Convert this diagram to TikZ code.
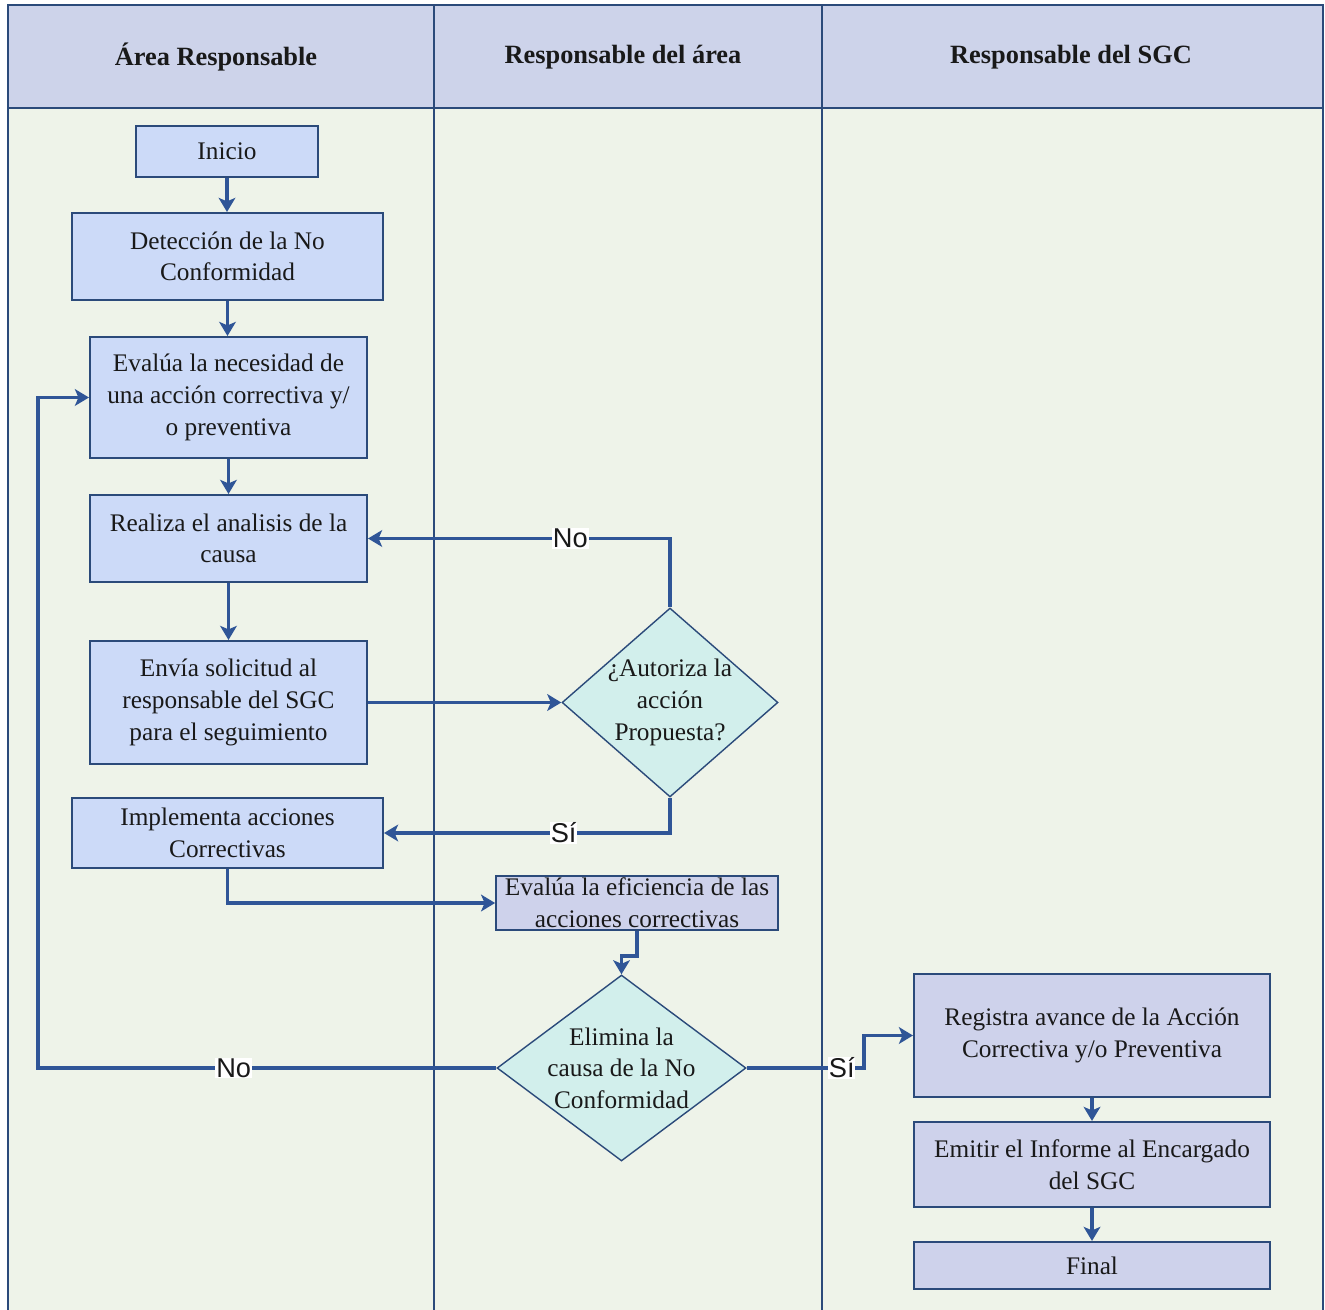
\documentclass[tikz,border=0pt]{standalone}
\usepackage{fontspec}
\setmainfont{Liberation Serif}
\newfontfamily\lblfont{Liberation Sans}
\usetikzlibrary{shapes.geometric,arrows.meta}

\definecolor{headfill}{HTML}{CDD3EA}
\definecolor{lanefill}{HTML}{EEF3E9}
\definecolor{boxblue}{HTML}{CCDAF8}
\definecolor{boxlila}{HTML}{CED2EB}
\definecolor{dmdfill}{HTML}{D2EFEC}
\definecolor{rule}{HTML}{2B4A7A}
\definecolor{flowc}{HTML}{2F5597}

\begin{document}
\begin{tikzpicture}[x=0.02cm, y=-0.02cm,
  every node/.style={font=\fontsize{14.4}{18}\selectfont, text=black!90},
  caja/.style={draw=rule, line width=1.2pt, fill=boxblue, rectangle,
    inner sep=0pt, align=center},
  cajalila/.style={caja, fill=boxlila},
  decision/.style={draw=rule, line width=0.8pt, fill=dmdfill, diamond,
    inner sep=-14pt, align=center},
  flow/.style={draw=flowc, line width=1.9pt,
    -{Stealth[length=8pt,width=9.5pt,inset=2pt]}},
  lbl/.style={fill=white, inner sep=0.5pt, font=\lblfont\fontsize{15.5}{18}\selectfont}]

  \useasboundingbox (0,0) rectangle (1325,1310);

  % ---- carriles (fondo y cabecera) ----
  \fill[lanefill] (8,108) rectangle (1323,1310);
  \fill[headfill] (8,5) rectangle (1323,108);
  \draw[rule, line width=1.2pt] (8,1310) -- (8,5) -- (1323,5) -- (1323,1310);
  \draw[rule, line width=1.2pt] (8,108) -- (1323,108);
  \foreach \x in {434, 822}{%
    \draw[rule, line width=1.2pt] (\x,5) -- (\x,1310);
  }
  \foreach \x/\t in {216/Área Responsable, 623/Responsable del área,
                     1071/Responsable del SGC}{%
    \node[font=\fontsize{15}{16}\selectfont\bfseries] at (\x,57) {\t};
  }

  % ---- Área Responsable ----
  \node[caja, minimum width=3.64cm, minimum height=1.02cm] (inicio) at (227,151.5) {Inicio};
  \node[caja, minimum width=6.22cm, minimum height=1.74cm] (detec) at (227.5,256.5)
    {Detección de la No\\Conformidad};
  \node[caja, minimum width=5.54cm, minimum height=2.42cm] (evalua) at (228.5,397.5)
    {Evalúa la necesidad de\\una acción correctiva y/\\o preventiva};
  \node[caja, minimum width=5.54cm, minimum height=1.74cm] (realiza) at (228.5,538.5)
    {Realiza el analisis de la\\causa};
  \node[caja, minimum width=5.54cm, minimum height=2.46cm] (envia) at (228.5,702.5)
    {Envía solicitud al\\responsable del SGC\\para el seguimiento};
  \node[caja, minimum width=6.22cm, minimum height=1.40cm] (impl) at (227.5,833)
    {Implementa acciones\\Correctivas};

  % ---- Responsable del área ----
  \node[decision, minimum width=4.32cm, minimum height=3.78cm] (autoriza) at (670,702.5)
    {¿Autoriza la\\acción\\Propuesta?};
  \node[cajalila, line width=1pt, minimum width=5.64cm, minimum height=1.08cm] (efic) at (637,903)
    {Evalúa la eficiencia de las\\acciones correctivas};
  \node[decision, minimum width=4.98cm, minimum height=3.72cm] (elimina) at (621.5,1068)
    {Elimina la\\causa de la No\\Conformidad};

  % ---- Responsable del SGC ----
  \node[cajalila, minimum width=7.12cm, minimum height=2.46cm] (registra) at (1092,1035.5)
    {Registra avance de la Acción\\Correctiva y/o Preventiva};
  \node[cajalila, minimum width=7.12cm, minimum height=1.70cm] (emitir) at (1092,1164.5)
    {Emitir el Informe al Encargado\\del SGC};
  \node[cajalila, minimum width=7.12cm, minimum height=0.94cm] (final) at (1092,1265.5) {Final};

  % ---- conectores ----
  \coordinate (retornoNo) at (38,1068);
  \coordinate (quiebreSi) at (864,1068);

  \draw[flow] (inicio.south) -- (inicio.south |- detec.north);
  \draw[flow] (detec.south) -- (detec.south |- evalua.north);
  \draw[flow] (evalua.south) -- (evalua.south |- realiza.north);
  \draw[flow] (realiza.south) -- (realiza.south |- envia.north);
  \draw[flow] (envia.east) -- (autoriza.west);
  \draw[flow] (autoriza.north) |- node[lbl, pos=0.665] {No} (realiza.east);
  \draw[flow] (autoriza.south) |- node[lbl, pos=0.686] {Sí} (impl.east);
  \draw[flow] (impl.south) |- (efic.west);
  \draw[flow] (efic.south) -- ++(0,25) -| (elimina.north);
  \draw[flow] (elimina.west) -- node[lbl, pos=0.573] {No} (retornoNo) |- (evalua.west);
  \draw[flow] (elimina.east) -- node[lbl, pos=0.81] {Sí} (quiebreSi) |- (registra.west);
  \draw[flow] (registra.south) -- (emitir.north);
  \draw[flow] (emitir.south) -- (final.north);
\end{tikzpicture}
\end{document}
